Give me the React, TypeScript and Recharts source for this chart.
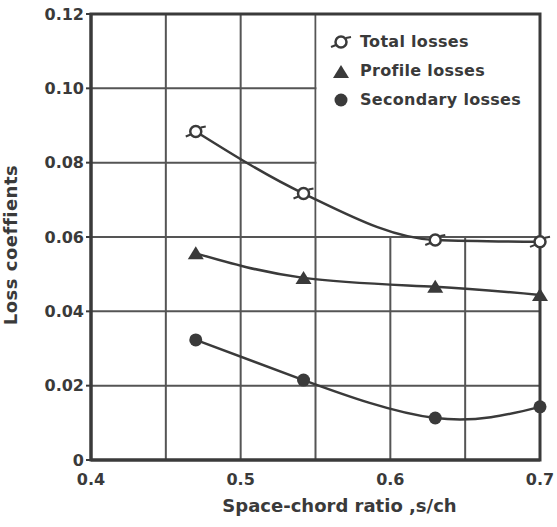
import React from "react";
import { LineChart, Line, XAxis, YAxis, CartesianGrid, ReferenceArea } from "recharts";

const spaceChord = [0.47, 0.542, 0.63, 0.7];
const totalLosses = [0.0884, 0.0717, 0.0592, 0.0587];
const profileLosses = [0.0556, 0.049, 0.0466, 0.0444];
const secondaryLosses = [0.0323, 0.0215, 0.0113, 0.0143];

const xTicks = [0.4, 0.45, 0.5, 0.55, 0.6, 0.65, 0.7];
const xTickLabels = ["0.4", "", "0.5", "", "0.6", "", "0.7"];
const yTicks = [0, 0.02, 0.04, 0.06, 0.08, 0.1, 0.12];
const yTickLabels = ["0", "0.02", "0.04", "0.06", "0.08", "0.10", "0.12"];

const seriesNames = ["Total losses", "Profile losses", "Secondary losses"];

const data = spaceChord.map((x, i) => ({
  x,
  total: totalLosses[i],
  profile: profileLosses[i],
  secondary: secondaryLosses[i],
}));

const ink = "#3a3a3a";
const font = "'DejaVu Sans', sans-serif";

function TotalMarker({ cx, cy }: any) {
  if (cx == null || cy == null) return null;
  return (
    <g>
      <line x1={cx - 10} y1={cy + 5} x2={cx - 5} y2={cy + 3} stroke={ink} strokeWidth={2} />
      <line x1={cx + 5} y1={cy - 4} x2={cx + 10} y2={cy - 5} stroke={ink} strokeWidth={2} />
      <circle cx={cx} cy={cy} r={5.5} fill="#fff" stroke={ink} strokeWidth={2.5} />
    </g>
  );
}

function TriMarker({ cx, cy }: any) {
  if (cx == null || cy == null) return null;
  return <path d={`M${cx},${cy - 7} L${cx + 8},${cy + 6} L${cx - 8},${cy + 6} Z`} fill={ink} />;
}

function DotMarker({ cx, cy }: any) {
  if (cx == null || cy == null) return null;
  return <circle cx={cx} cy={cy} r={6.5} fill={ink} />;
}

function LegendBox() {
  const icons = [
    <svg width={22} height={20} key="a"><TotalMarker cx={11} cy={10} /></svg>,
    <svg width={22} height={20} key="b"><TriMarker cx={11} cy={11} /></svg>,
    <svg width={22} height={20} key="c"><DotMarker cx={11} cy={10} /></svg>,
  ];
  return (
    <div style={{ position: "absolute", left: 330, top: 27, fontFamily: font, fontWeight: "bold", fontSize: 16, color: ink }}>
      {seriesNames.map((n, i) => (
        <div key={n} style={{ display: "flex", alignItems: "center", height: 29 }}>
          {icons[i]}
          <span style={{ marginLeft: 8, letterSpacing: 0.3 }}>{n}</span>
        </div>
      ))}
    </div>
  );
}

export default function App() {
  return (
    <div style={{ position: "absolute", left: 0, top: 0, width: 557, height: 527, background: "#fff", overflow: "hidden" }}>
      <LineChart width={557} height={527} data={data} margin={{ top: 14, right: 17, bottom: 0, left: 0 }}>
        <CartesianGrid stroke="#555" strokeWidth={2} />
        <ReferenceArea x1={0.5507} x2={0.7} y1={0.0603} y2={0.12} fill="#fff" fillOpacity={1} stroke="none" ifOverflow="visible" />
        <ReferenceArea x1={0.4} x2={0.7} y1={0} y2={0.12} fill="none" stroke={ink} strokeWidth={3} ifOverflow="visible" />
        <XAxis
          dataKey="x"
          type="number"
          domain={[0.4, 0.7]}
          ticks={xTicks}
          tickFormatter={(v: number) => xTickLabels[xTicks.indexOf(v)]}
          height={67}
          axisLine={{ stroke: ink, strokeWidth: 3 }}
          tickLine={false}
          tickMargin={8}
          tick={{ fill: ink, fontSize: 16, fontWeight: "bold", fontFamily: font }}
          label={{ value: "Space-chord ratio ,s/ch", position: "insideBottom", offset: 15, dx: 24, fill: ink, fontSize: 18, fontWeight: "bold", fontFamily: font }}
        />
        <YAxis
          type="number"
          domain={[0, 0.12]}
          ticks={yTicks}
          tickFormatter={(v: number) => yTickLabels[yTicks.indexOf(v)]}
          width={91}
          axisLine={{ stroke: ink, strokeWidth: 3 }}
          tickLine={{ stroke: ink, strokeWidth: 2 }}
          tickSize={5}
          tickMargin={2}
          tick={{ fill: ink, fontSize: 16, fontWeight: "bold", fontFamily: font }}
          label={{ value: "Loss coeffients", angle: -90, position: "insideLeft", offset: 11, dy: 8, fill: ink, fontSize: 18, fontWeight: "bold", fontFamily: font, letterSpacing: 0.5, style: { textAnchor: "middle" } }}
        />
        <Line type="monotone" dataKey="total" stroke={ink} strokeWidth={2.5} dot={<TotalMarker />} isAnimationActive={false} />
        <Line type="natural" dataKey="profile" stroke={ink} strokeWidth={2.5} dot={<TriMarker />} isAnimationActive={false} />
        <Line type="natural" dataKey="secondary" stroke={ink} strokeWidth={2.5} dot={<DotMarker />} isAnimationActive={false} />
      </LineChart>
      <LegendBox />
    </div>
  );
}
